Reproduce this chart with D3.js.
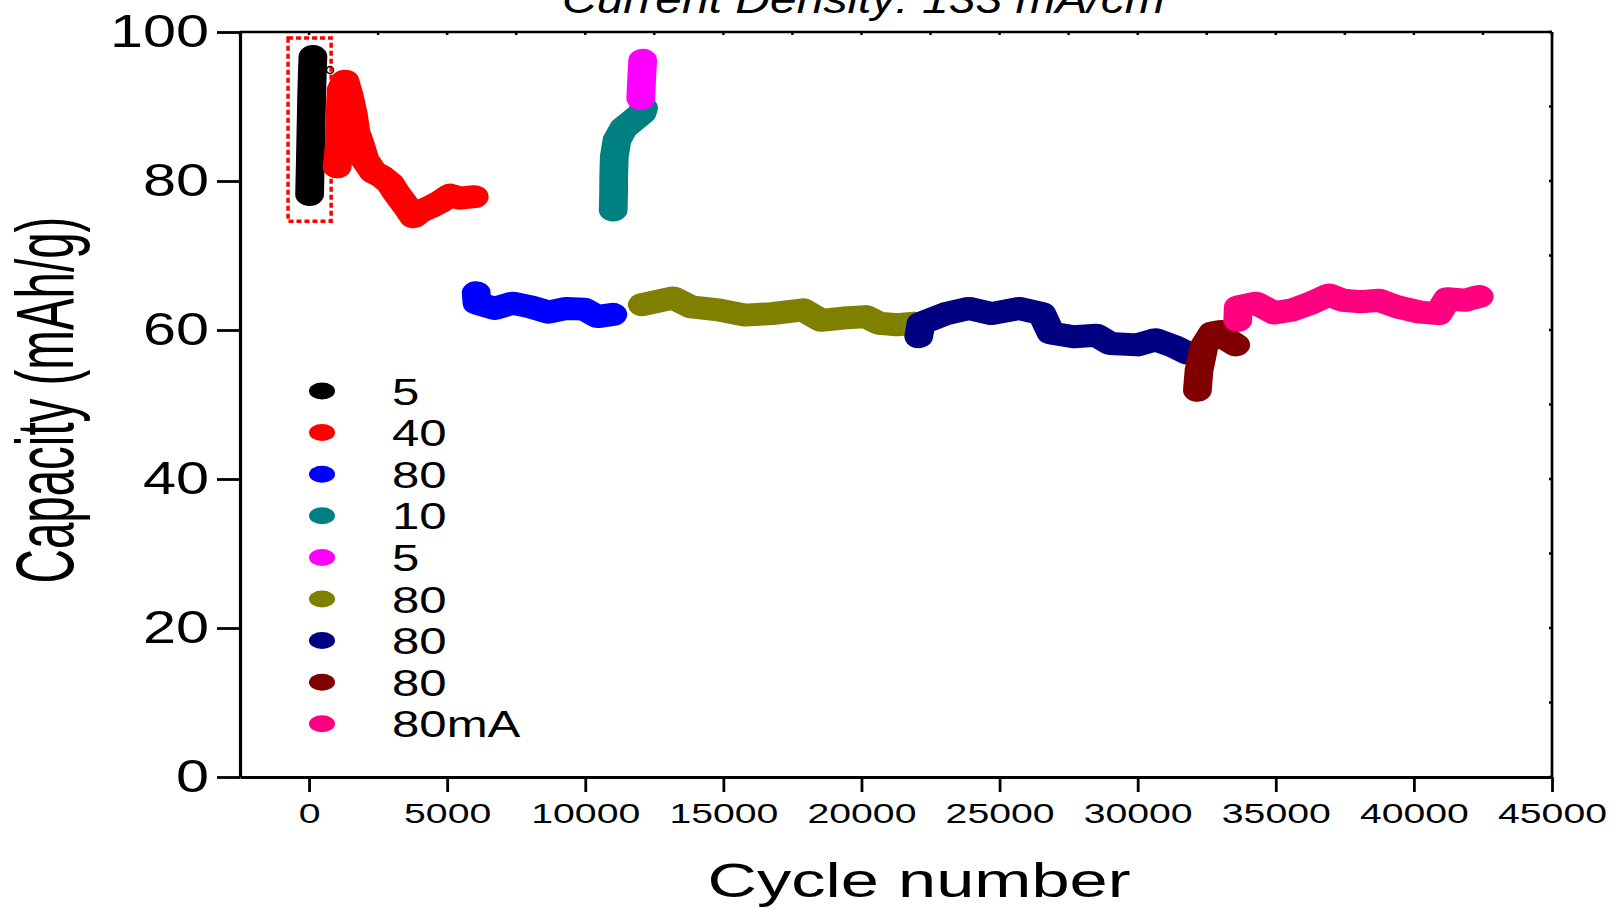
<!DOCTYPE html>
<html>
<head>
<meta charset="utf-8">
<script src="https://cdn.jsdelivr.net/npm/d3@7"></script>
<style>
  body { margin: 0; background: #fff; }
  svg { display: block; font-family: "Liberation Sans", Arial, sans-serif; }
</style>
</head>
<body>
<script>
// cycle number / capacity (mAh/g)
const black5   = [[20,78.2],[45,82.5],[70,87],[95,91.5],[120,94.8],[140,96.7]];
const red40    = [[1015,81.9],[1090,84.5],[1120,88.5],[1160,92.2],[1300,93.4],[1450,91.5],[1600,89.0],[1700,86.5],[1848,85.0],[2029,82.8],[2330,81.2],[2634,80.6],[2935,79.7],[3178,78.3],[3540,76.5],[3779,75.2],[4022,75.9],[4384,76.5],[4746,77.2],[5109,78.1],[5471,77.7],[5980,77.9]];
const blue80   = [[6050,65.0],[6080,63.6],[6725,62.9],[7373,63.6],[8022,63.1],[8667,62.4],[9315,62.9],[9960,62.8],[10446,61.8],[11000,62.1]];
const teal10   = [[11010,76.1],[11025,78.3],[11030,80.6],[11051,83.3],[11149,85.5],[11388,87.1],[11750,88.2],[12054,89.1],[12112,89.8]];
const magenta5 = [[12010,91.1],[12030,92.7],[12050,94.3],[12070,95.5],[12080,96.2]];
const olive80  = [[12065,63.4],[13188,64.3],[13840,63.1],[14820,62.7],[15783,62.0],[16754,62.2],[17888,62.7],[18533,61.3],[19343,61.6],[20152,61.8],[20638,60.9],[21283,60.7],[21931,60.9]];
const navy80   = [[22072,59.1],[22156,60.9],[23062,62.2],[23888,62.9],[24710,62.2],[25703,62.9],[26529,62.2],[26859,59.6],[27681,59.1],[28507,59.3],[29004,58.2],[29993,58.0],[30652,58.7],[31312,57.8],[31808,56.9]];
const maroon80 = [[32162,51.9],[32221,54.6],[32402,57.8],[32706,59.6],[33007,59.8],[33300,58.6],[33551,58.0]];
const pink80   = [[33623,61.3],[33640,63.1],[34283,63.6],[34943,62.3],[35602,62.7],[36261,63.6],[36920,64.7],[37417,64.0],[38076,63.8],[38736,64.0],[39398,63.1],[40221,62.4],[40884,62.2],[41214,64.2],[41873,64.0],[42366,64.5]];
const strayPoint = [760, 94.9];   // small open marker next to the first run

const seriesLabels = ["5", "40", "80", "10", "5", "80", "80", "80", "80mA"];
const seriesColors = ["#000000", "#ff0000", "#0000ff", "#008080", "#ff00ff", "#808000", "#000080", "#800000", "#ff0080"];
const seriesData = [black5, red40, blue80, teal10, magenta5, olive80, navy80, maroon80, pink80];

const xMajor = d3.range(0, 45001, 5000);
const xMinor = d3.range(-2500, 45001, 5000);
const yMajor = d3.range(0, 101, 20);
const yMinor = d3.range(10, 100, 20);
const boxRange = {c0: -760, c1: 800, v0: 74.6, v1: 99.2};   // dotted highlight box

const W = 1614, H = 908;
const L = 240, R = 1552, T = 32, B = 777;
const SX = 1.25;  // the figure is stretched horizontally; markers are ellipses

const svg = d3.select('body').append('svg').attr('width', W).attr('height', H);

const x = d3.scaleLinear().domain([-2500, 45000]).range([L, R]);
const y = d3.scaleLinear().domain([0, 100]).range([B, T]);

// title, cut by the top edge as in the original
svg.append('text')
   .attr('transform', 'translate(562,13) scale(1.2,1)')
   .attr('font-size', 40).attr('font-style', 'italic')
   .text('Current Density: 133 mA/cm');

// frame top / right with tiny ticks
svg.append('line').attr('x1', L).attr('x2', R).attr('y1', T).attr('y2', T)
   .attr('stroke', '#000').attr('stroke-width', 2.7);
svg.append('line').attr('x1', R).attr('x2', R).attr('y1', T).attr('y2', B)
   .attr('stroke', '#000').attr('stroke-width', 2.7);
svg.append('g').selectAll('line').data(xMajor.concat(xMinor)).join('line')
   .attr('x1', d => x(d)).attr('x2', d => x(d)).attr('y1', T).attr('y2', T + 3)
   .attr('stroke', '#000').attr('stroke-width', 2.5);
svg.append('g').selectAll('line').data(yMajor.concat(yMinor)).join('line')
   .attr('x1', R - 3).attr('x2', R).attr('y1', d => y(d)).attr('y2', d => y(d))
   .attr('stroke', '#000').attr('stroke-width', 2.5);

// bottom axis
const gx = svg.append('g').attr('transform', `translate(0,${B})`);
gx.call(d3.axisBottom(x).tickValues(xMinor).tickSize(8).tickFormat('').tickSizeOuter(0));
gx.call(d3.axisBottom(x).tickValues(xMajor).tickSize(15).tickSizeOuter(0).tickFormat(d3.format('d')));
gx.selectAll('.domain').attr('stroke-width', 3.2);
gx.selectAll('.tick line').attr('stroke-width', 2.8);
gx.selectAll('.tick text')
  .attr('font-size', 28).attr('font-family', '"Liberation Sans", Arial, sans-serif')
  .attr('fill', '#000').attr('dy', null).attr('y', 46)
  .attr('transform', 'scale(1.4,1)');

// left axis
const gy = svg.append('g').attr('transform', `translate(${L},0)`);
gy.call(d3.axisLeft(y).tickValues(yMinor).tickSize(13).tickFormat('').tickSizeOuter(0));
gy.call(d3.axisLeft(y).tickValues(yMajor).tickSize(23).tickSizeOuter(0));
gy.selectAll('.domain').attr('stroke-width', 3.2);
gy.selectAll('.tick line').attr('stroke-width', 2.8);
gy.selectAll('.tick text')
  .attr('font-size', 46).attr('font-family', '"Liberation Sans", Arial, sans-serif')
  .attr('fill', '#000').attr('dy', null).attr('y', 14).attr('x', -31 / 1.29)
  .attr('transform', 'scale(1.29,1)');

// axis titles
svg.append('text')
   .attr('transform', 'translate(919,897) scale(1.4,1)')
   .attr('text-anchor', 'middle').attr('font-size', 49)
   .text('Cycle number');
svg.append('text')
   .attr('transform', 'translate(73,400) rotate(-90) scale(0.95,1.62)')
   .attr('text-anchor', 'middle').attr('font-size', 50)
   .text('Capacity (mAh/g)');

// series: thick runs of overlapping elliptical markers
const plot = svg.append('g').attr('transform', `scale(${SX},1)`);
const line = d3.line().x(d => x(d[0]) / SX).y(d => y(d[1]));
plot.selectAll('path').data(seriesData).join('path')
    .attr('d', line)
    .attr('fill', 'none')
    .attr('stroke', (d, i) => seriesColors[i])
    .attr('stroke-width', 23)
    .attr('stroke-linecap', 'round')
    .attr('stroke-linejoin', 'round');

svg.append('circle')
   .attr('cx', x(strayPoint[0])).attr('cy', y(strayPoint[1])).attr('r', 3.5)
   .attr('fill', 'none').attr('stroke', '#000').attr('stroke-width', 1.5);

// dotted highlight box round the first series
svg.append('rect')
   .attr('x', x(boxRange.c0)).attr('y', y(boxRange.v1))
   .attr('width', x(boxRange.c1) - x(boxRange.c0))
   .attr('height', y(boxRange.v0) - y(boxRange.v1))
   .attr('fill', 'none').attr('stroke', '#ff0000')
   .attr('stroke-width', 3.5).attr('stroke-dasharray', '5,3');

// legend
const lg = svg.append('g').attr('transform', 'translate(322,391)');
const item = lg.selectAll('g').data(seriesLabels).join('g')
   .attr('transform', (d, i) => `translate(0,${i * 41.6})`);
item.append('ellipse').attr('rx', 13).attr('ry', 8.5)
    .attr('fill', (d, i) => seriesColors[i]);
item.append('text')
    .attr('transform', 'translate(70,13.5) scale(1.31,1)')
    .attr('font-size', 37.5)
    .text(d => d);
</script>
</body>
</html>
